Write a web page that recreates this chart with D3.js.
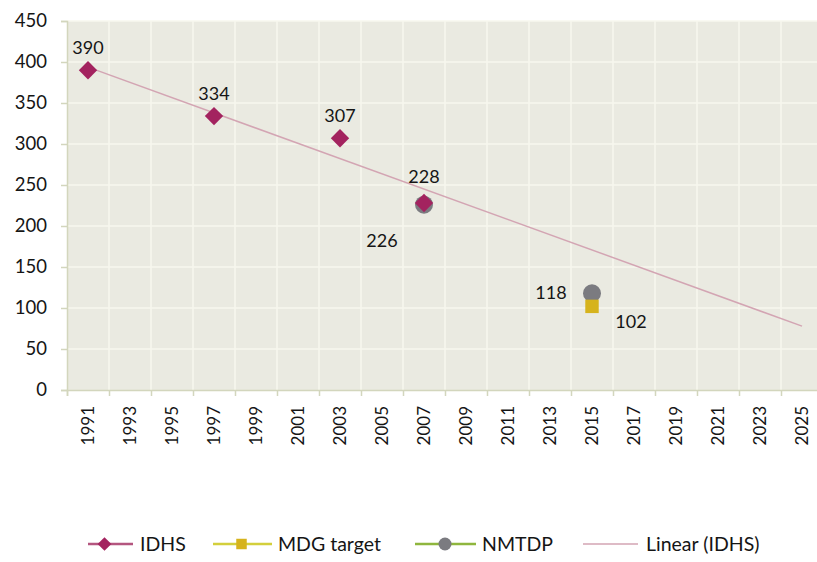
<!DOCTYPE html>
<html>
<head>
<meta charset="utf-8">
<script src="https://cdn.jsdelivr.net/npm/d3@7"></script>
<style>
  html, body { margin: 0; padding: 0; background: #ffffff; }
  svg { display: block; font-family: Lato, "Open Sans", sans-serif; }
</style>
</head>
<body>
<svg id="chart" width="817" height="562"></svg>
<script>
// Survey years and values
const idhsYears = [1991, 1997, 2003, 2007];
const idhsValues = [390, 334, 307, 228];
const mdgYears = [2015];
const mdgValues = [102];
const nmtdpYears = [2007, 2015];
const nmtdpValues = [226, 118];

// Axis ticks
const yTicks = [0, 50, 100, 150, 200, 250, 300, 350, 400, 450];
const xLabelYears = [1991, 1993, 1995, 1997, 1999, 2001, 2003, 2005, 2007, 2009,
                     2011, 2013, 2015, 2017, 2019, 2021, 2023, 2025];
const xGridYears = [1990, 1992, 1994, 1996, 1998, 2000, 2002, 2004, 2006, 2008,
                    2010, 2012, 2014, 2016, 2018, 2020, 2022, 2024, 2026];
const trendRange = [1991, 2025];

const legendItems = ["IDHS", "MDG target", "NMTDP", "Linear (IDHS)"];

const svg = d3.select("#chart");
const W = 817;

const x = d3.scaleLinear().domain([1990, 2026]).range([67, 823]);
const y = d3.scaleLinear().domain([0, 450]).range([390, 21]);

const colors = {
  plotBg: "#eaeae1",
  grid: "#f7f7ee",
  axis: "#d3d6bd",
  idhs: "#a3235f",
  idhsLine: "#b4567f",
  mdg: "#d6b31c",
  mdgLine: "#d3cf3c",
  nmtdp: "#7b7b80",
  nmtdpLine: "#8fb63e",
  trend: "#d3a5b3",
  text: "#151515"
};

// Plot area background
svg.append("rect")
  .attr("x", x(1990)).attr("y", y(450))
  .attr("width", W - x(1990)).attr("height", y(0) - y(450))
  .attr("fill", colors.plotBg);

// Gridlines
svg.append("g").selectAll("line").data(yTicks.filter(d => d > 0)).join("line")
  .attr("x1", x(1990)).attr("x2", W)
  .attr("y1", d => y(d)).attr("y2", d => y(d))
  .attr("stroke", colors.grid).attr("stroke-width", 1.6);
svg.append("g").selectAll("line").data(xGridYears.filter(d => d > 1990)).join("line")
  .attr("x1", d => x(d)).attr("x2", d => x(d))
  .attr("y1", y(450)).attr("y2", y(0))
  .attr("stroke", colors.grid).attr("stroke-width", 1.6);

// Y axis
const yAxis = svg.append("g")
  .attr("transform", `translate(${x(1990)},0)`)
  .call(d3.axisLeft(y).tickValues(yTicks).tickSize(6).tickPadding(14));
yAxis.select(".domain").attr("stroke", colors.axis).attr("stroke-width", 1.5);
yAxis.selectAll(".tick line").attr("stroke", colors.axis).attr("stroke-width", 1.5);
yAxis.selectAll(".tick text")
  .attr("fill", colors.text).attr("font-size", 18.5)
  .attr("font-family", "Lato, 'Open Sans', sans-serif");

// X axis: ticks at even years, labels at odd years
const xAxis = svg.append("g")
  .attr("transform", `translate(0,${y(0)})`)
  .call(d3.axisBottom(x).tickValues(xGridYears).tickSize(6).tickFormat(""));
xAxis.select(".domain").attr("stroke", colors.axis).attr("stroke-width", 1.5);
xAxis.selectAll(".tick line").attr("stroke", colors.axis).attr("stroke-width", 1.5);

svg.append("g").selectAll("text").data(xLabelYears).join("text")
  .attr("transform", d => `translate(${x(d)},${y(0) + 16}) rotate(-90)`)
  .attr("text-anchor", "end")
  .attr("dy", "0.36em")
  .attr("fill", colors.text)
  .attr("font-size", 17)
  .text(d => d);

// Linear trend of the IDHS series (least squares)
const mx = d3.mean(idhsYears), my = d3.mean(idhsValues);
const sxy = d3.sum(idhsYears, (t, i) => (t - mx) * (idhsValues[i] - my));
const sxx = d3.sum(idhsYears, t => (t - mx) * (t - mx));
const slope = sxy / sxx, intercept = my - slope * mx;
const trendPts = trendRange.map(t => [t, intercept + slope * t]);
svg.append("path")
  .datum(trendPts)
  .attr("d", d3.line().x(d => x(d[0])).y(d => y(d[1])))
  .attr("fill", "none").attr("stroke", colors.trend).attr("stroke-width", 1.5);

// Markers
const diamond = d3.symbol().type(d3.symbolDiamond2).size(215);
const square = d3.symbol().type(d3.symbolSquare2).size(230);

svg.append("g").selectAll("circle").data(nmtdpYears).join("circle")
  .attr("cx", d => x(d)).attr("cy", (d, i) => y(nmtdpValues[i]))
  .attr("r", 9).attr("fill", colors.nmtdp);

svg.append("g").selectAll("path").data(mdgYears).join("path")
  .attr("transform", (d, i) => `translate(${x(d)},${y(mdgValues[i])})`)
  .attr("d", square).attr("fill", colors.mdg);

svg.append("g").selectAll("path").data(idhsYears).join("path")
  .attr("transform", (d, i) => `translate(${x(d)},${y(idhsValues[i])})`)
  .attr("d", diamond).attr("fill", colors.idhs);

// Data labels
const labelFont = 18;
function addLabels(years, values, dx, dy) {
  svg.append("g").selectAll("text").data(years).join("text")
    .attr("x", (d, i) => x(d) + dx[i])
    .attr("y", (d, i) => y(values[i]) + dy[i])
    .attr("text-anchor", "middle")
    .attr("fill", colors.text)
    .attr("font-size", labelFont)
    .text((d, i) => values[i]);
}
addLabels(idhsYears, idhsValues, [0, 0, 0, 0], [-16, -16, -16, -20]);
addLabels(nmtdpYears, nmtdpValues, [-42, -41], [42, 6]);
addLabels(mdgYears, mdgValues, [39], [22]);

// Legend
const legendY = 544;
const legend = svg.append("g");
const lg = [
  { x0: 88, x1: 133, text: 140 },
  { x0: 213, x1: 272, text: 278 },
  { x0: 415, x1: 476, text: 482 },
  { x0: 583, x1: 638, text: 646 }
];
const legendLine = [colors.idhsLine, colors.mdgLine, colors.nmtdpLine, colors.trend];
legendItems.forEach((name, i) => {
  const g = legend.append("g");
  g.append("line")
    .attr("x1", lg[i].x0).attr("x2", lg[i].x1)
    .attr("y1", legendY).attr("y2", legendY)
    .attr("stroke", legendLine[i]).attr("stroke-width", i === 3 ? 1.3 : 2.6);
  const cx = (lg[i].x0 + lg[i].x1) / 2;
  if (i === 0) {
    g.append("path").attr("transform", `translate(${cx - 6},${legendY})`)
      .attr("d", d3.symbol().type(d3.symbolDiamond2).size(120)).attr("fill", colors.idhs);
  } else if (i === 1) {
    g.append("path").attr("transform", `translate(${cx - 1},${legendY})`)
      .attr("d", d3.symbol().type(d3.symbolSquare2).size(140)).attr("fill", colors.mdg);
  } else if (i === 2) {
    g.append("circle").attr("cx", 445).attr("cy", legendY).attr("r", 6.5).attr("fill", colors.nmtdp);
  }
  g.append("text")
    .attr("x", lg[i].text).attr("y", legendY).attr("dy", "0.36em")
    .attr("fill", colors.text).attr("font-size", 19.5)
    .text(name);
});
</script>
</body>
</html>
